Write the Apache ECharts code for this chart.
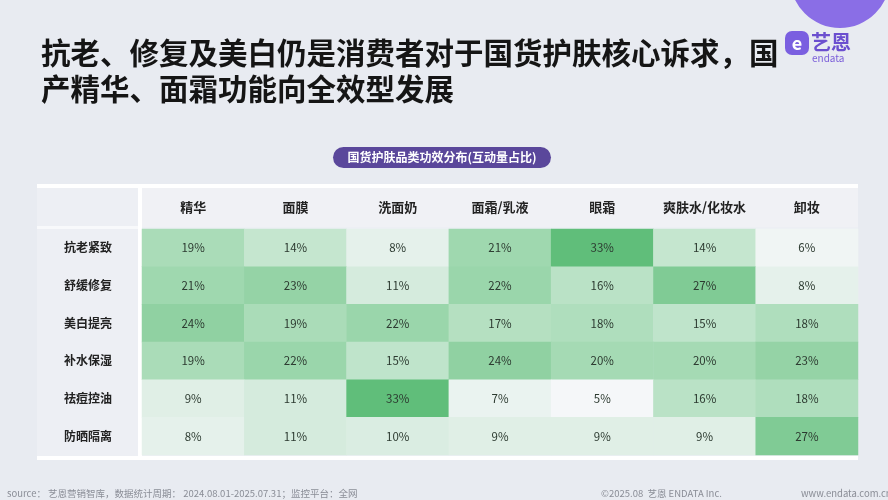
<!DOCTYPE html>
<html><head><meta charset="utf-8">
<script src="https://cdn.jsdelivr.net/npm/echarts@6/dist/echarts.min.js"></script>
<style>html,body{margin:0;padding:0;background:#e8ebf1;}#c{width:888px;height:500px;}</style>
</head><body><div id="c"></div>
<script>
const categories = ['精华', '面膜', '洗面奶', '面霜/乳液', '眼霜', '爽肤水/化妆水', '卸妆'];
const efficacies = ['抗老紧致', '舒缓修复', '美白提亮', '补水保湿', '祛痘控油', '防晒隔离'];
const antiAging   = [19, 14, 8, 21, 33, 14, 6];
const soothing    = [21, 23, 11, 22, 16, 27, 8];
const whitening   = [24, 19, 22, 17, 18, 15, 18];
const hydrating   = [19, 22, 15, 24, 20, 20, 23];
const acneControl = [9, 11, 33, 7, 5, 16, 18];
const sunscreen   = [8, 11, 10, 9, 9, 9, 27];
const rows = [antiAging, soothing, whitening, hydrating, acneControl, sunscreen];

const data = [];
rows.forEach((r, yi) => r.forEach((v, xi) => data.push([xi, yi, v])));

const F = '"Noto Sans CJK SC", "Noto Sans", sans-serif';
const chart = echarts.init(document.getElementById('c'), null, {renderer: 'canvas'});
chart.setOption({
  backgroundColor: '#e8ebf1',
  animation: false,
  title: {
    text: '抗老、修复及美白仍是消费者对于国货护肤核心诉求，国\n产精华、面霜功能向全效型发展',
    left: 36, top: 30,
    textStyle: {fontFamily: F, fontSize: 29.5, fontWeight: 'bold', color: '#151515', lineHeight: 36}
  },
  grid: {left: 142, right: 30, top: 229, bottom: 45},
  xAxis: {
    type: 'category', data: categories, position: 'top',
    axisLine: {show: false}, axisTick: {show: false}, splitLine: {show: false},
    axisLabel: {interval: 0, margin: 22, fontFamily: F, fontSize: 13, fontWeight: 'bold', color: '#222', verticalAlign: 'middle'}
  },
  yAxis: {
    type: 'category', data: efficacies, inverse: true,
    axisLine: {show: false}, axisTick: {show: false}, splitLine: {show: false},
    axisLabel: {interval: 0, margin: 54, align: 'center', fontFamily: F, fontSize: 12, fontWeight: 'bold', color: '#222'}
  },
  visualMap: {
    show: false, min: 5, max: 33, dimension: 2,
    inRange: {color: ['#f5f7f9', '#aadcb8', '#60be7a']}
  },
  series: [{
    type: 'heatmap', data: data,
    label: {show: true, formatter: p => p.value[2] + '%', fontFamily: F, fontSize: 11.5, color: '#2c3a30'},
    itemStyle: {borderWidth: 0}
  }],
  graphic: [
    {type: 'rect', z: -10, shape: {x: 37, y: 185, width: 821, height: 274}, style: {fill: '#edeff4'}},
    {type: 'rect', z: -9, shape: {x: 37, y: 184, width: 821, height: 4}, style: {fill: '#ffffff'}},
    {type: 'rect', z: -9, shape: {x: 37, y: 226, width: 102, height: 3}, style: {fill: '#f8f9fb'}},
    {type: 'rect', z: -9, shape: {x: 138, y: 186, width: 4, height: 272}, style: {fill: '#ffffff'}},
    {type: 'rect', z: -9, shape: {x: 37, y: 456, width: 821, height: 4}, style: {fill: '#ffffff'}},
    {type: 'rect', z: -9, shape: {x: 142, y: 188, width: 716, height: 39}, style: {fill: '#f0f1f5'}},
    {type: 'rect', shape: {x: 333, y: 147, width: 218, height: 21, r: 10.5}, style: {fill: '#5a479b'}},
    {type: 'text', style: {x: 442, y: 157.5, text: '国货护肤品类功效分布(互动量占比)', fill: '#ffffff', font: 'bold 12px ' + F, textAlign: 'center', textVerticalAlign: 'middle'}},
    {type: 'ring', shape: {cx: 840, cy: -22, r: 50, r0: 22}, style: {fill: '#8a6ee6'}},
    {type: 'circle', shape: {cx: 840, cy: -22, r: 22}, style: {fill: '#c9bff2'}},
    {type: 'rect', shape: {x: 785, y: 31, width: 24, height: 24, r: 7}, style: {fill: '#7a5fe0'}},
    {type: 'text', style: {x: 797, y: 43, text: 'e', fill: '#ffffff', font: 'bold 18px ' + F, textAlign: 'center', textVerticalAlign: 'middle'}},
    {type: 'text', style: {x: 811, y: 42, text: '艺恩', fill: '#6b4fcf', font: 'bold 20px ' + F, textVerticalAlign: 'middle'}},
    {type: 'text', style: {x: 812, y: 58, text: 'endata', fill: '#7b5fd9', font: '10px ' + F, textVerticalAlign: 'middle'}},
    {type: 'text', style: {x: 7, y: 493, text: 'source： 艺恩营销智库，数据统计周期： 2024.08.01-2025.07.31；监控平台：全网', fill: '#8a8d96', font: '9.5px ' + F, textVerticalAlign: 'middle'}},
    {type: 'text', style: {x: 601, y: 493, text: '©2025.08  艺恩 ENDATA Inc.', fill: '#8a8d96', font: '9.5px ' + F, textVerticalAlign: 'middle'}},
    {type: 'text', style: {x: 801, y: 493, text: 'www.endata.com.cn', fill: '#8a8d96', font: '9.5px ' + F, textVerticalAlign: 'middle'}}
  ]
});
</script></body></html>
